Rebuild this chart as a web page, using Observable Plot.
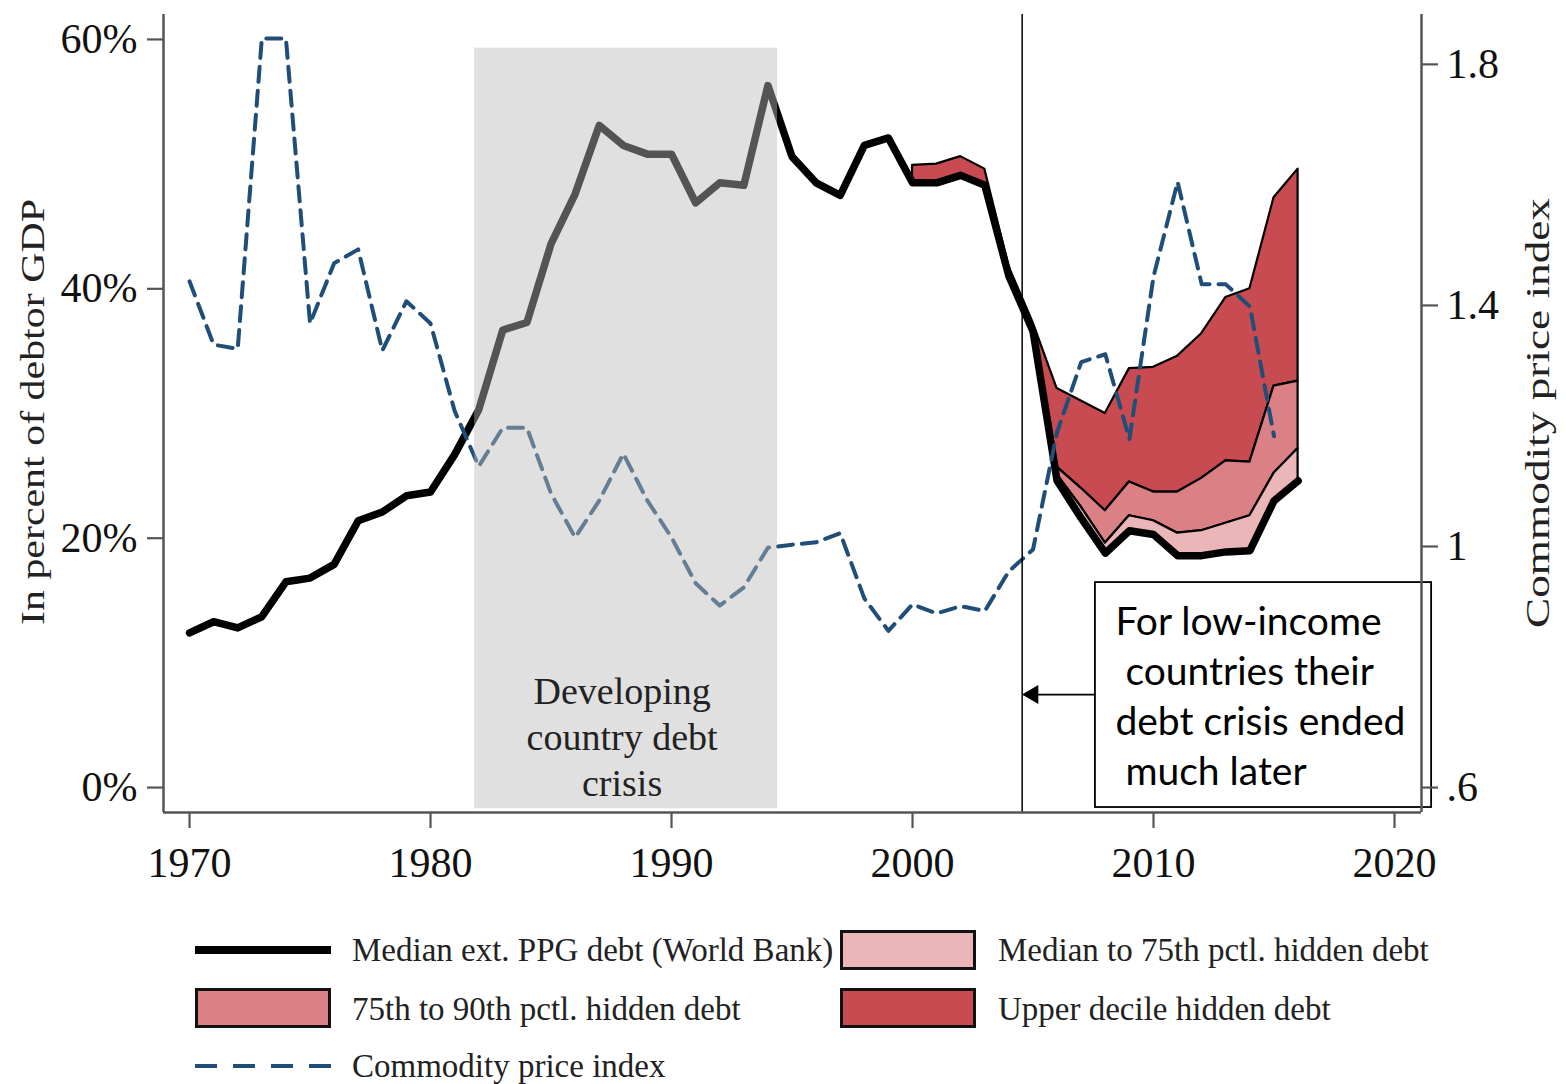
<!DOCTYPE html>
<html><head><meta charset="utf-8">
<script src="https://cdn.jsdelivr.net/npm/d3@7"></script>
<script src="https://cdn.jsdelivr.net/npm/@observablehq/plot@0.6"></script>
<style>
html,body{margin:0;padding:0;background:#fff;}
#wrap{position:relative;width:1566px;height:1084px;overflow:hidden;background:#fff;}
#wrap svg text{white-space:pre;}
.leg{position:absolute;font-family:"Liberation Serif",serif;font-size:33px;color:#222;line-height:1;white-space:nowrap;transform:translateY(-50%);}
.sw{position:absolute;box-sizing:border-box;border:3.5px solid #111;}
</style></head><body><div id="wrap"></div>
<script>
// ---- data ----
const years = [1970,1971,1972,1973,1974,1975,1976,1977,1978,1979,1980,1981,1982,1983,1984,1985,1986,1987,1988,1989,1990,1991,1992,1993,1994,1995,1996,1997,1998,1999,2000,2001,2002,2003,2004,2005,2006,2007,2008,2009,2010,2011,2012,2013,2014,2015,2016];
const medianDebt = [12.4,13.3,12.8,13.7,16.5,16.8,17.9,21.4,22.1,23.4,23.7,26.7,30.3,36.7,37.3,43.6,47.6,53.1,51.5,50.8,50.8,46.9,48.5,48.3,56.3,50.6,48.5,47.5,51.5,52.1,48.5,48.5,49.1,48.3,41.0,36.6,24.6,21.6,18.8,20.6,20.3,18.6,18.6,18.9,19.0,23.0,24.6];

const hiddenYears = [2000,2001,2002,2003,2004,2005,2006,2007,2008,2009,2010,2011,2012,2013,2014,2015,2016];
const pct75 = [48.5,48.5,49.1,48.3,41.0,36.6,25.1,22.5,19.6,21.8,21.4,20.4,20.6,21.2,21.8,25.2,27.2];
const pct90 = [48.5,48.5,49.1,48.3,41.0,36.6,25.7,24.0,22.2,24.5,23.7,23.7,24.8,26.2,26.1,32.2,32.6];
const upperDecileTop = [49.9,50.0,50.6,49.6,41.8,37.3,32.0,31.0,30.0,33.6,33.7,34.6,36.4,39.3,40.0,47.3,49.6];

const commodityYears = [1970,1971,1972,1973,1974,1975,1976,1977,1978,1979,1980,1981,1982,1983,1984,1985,1986,1987,1988,1989,1990,1991,1992,1993,1994,1995,1996,1997,1998,1999,2000,2001,2002,2003,2004,2005,2006,2007,2008,2009,2010,2011,2012,2013,2014,2015];
const commodityIndex = [1.44,1.335,1.328,1.843,1.843,1.37,1.47,1.493,1.325,1.407,1.37,1.225,1.133,1.197,1.197,1.088,1.015,1.076,1.154,1.076,1.015,0.939,0.902,0.932,0.998,1.003,1.007,1.022,0.914,0.86,0.904,0.889,0.901,0.893,0.959,0.995,1.19,1.306,1.319,1.178,1.448,1.605,1.435,1.435,1.398,1.183];

const xTicks = [1970,1980,1990,2000,2010,2020];
const leftTicks = [0,20,40,60];
const rightTicks = [0.6,1,1.4,1.8];
const rightTickLabels = [".6","1","1.4","1.8"];

const legendLabels = ["Median ext. PPG debt (World Bank)","Median to 75th pctl. hidden debt","75th to 90th pctl. hidden debt","Upper decile hidden debt","Commodity price index"];

// annotations (data units)
const crisis = {x1:1981.83, x2:1994.4, y1:-1.7, y2:59.3};
const crisisLabel = {x:1987.95, y:4.2, text:"Developing\ncountry debt\ncrisis"};
const lowIncomeEnd = [2004.55];
const noteBox = {x1:2007.59, x2:2021.54, y1:-1.6, y2:16.44};
const note = {x:2008.42, y:7.5, text:"For low-income\n countries their\ndebt crisis ended\n much later"};
const arrow = {x1:2007.59, x2:2004.62, y:7.46};

// ---- build ----
const xDomain = [1968.92, 2021.12];
const yDomain = [-2, 62];
const toPct = v => (v - 0.6) * (58 / 1.2);
const rightLabelMap = new Map(rightTicks.map((v,i)=>[toPct(v), rightTickLabels[i]]));
const debtRows = years.map((year,i)=>({year, debt: medianDebt[i]}));
const commodityRows = commodityYears.map((year,i)=>({year, idx: toPct(commodityIndex[i])}));
const hiddenRows = hiddenYears.map((year,i)=>({year, med: medianDebt[years.indexOf(year)], p75: pct75[i], p90: pct90[i], top: upperDecileTop[i]}));

const C_TOP = "#c84b51", C_MID = "#db8085", C_LOW = "#ebb6b8", C_COM = "#1f4e79";
const axisStyle = {stroke:"#555", strokeWidth:2.2, fill:"#111", tickSize:16, label:null};
const spine = {stroke:"#555", strokeWidth:2.5};

const svg = Plot.plot({
  width: 1566, height: 905,
  marginLeft: 163, marginRight: 145, marginTop: 14, marginBottom: 93,
  x: {domain: xDomain},
  y: {domain: yDomain},
  style: {fontFamily: '"Liberation Serif", serif', fontSize: "42px", color: "#111", background: "white", overflow: "visible"},
  marks: [
    Plot.areaY(hiddenRows, {x:"year", y1:"p90", y2:"top", fill:C_TOP, stroke:"#000", strokeWidth:2.2, strokeLinejoin:"round"}),
    Plot.areaY(hiddenRows, {x:"year", y1:"p75", y2:"p90", fill:C_MID, stroke:"#000", strokeWidth:2.2, strokeLinejoin:"round"}),
    Plot.areaY(hiddenRows, {x:"year", y1:"med", y2:"p75", fill:C_LOW, stroke:"#000", strokeWidth:2.2, strokeLinejoin:"round"}),
    Plot.lineY(debtRows, {x:"year", y:"debt", stroke:"#000", strokeWidth:7.5, strokeLinejoin:"round"}),
    Plot.lineY(commodityRows, {x:"year", y:"idx", stroke:C_COM, strokeWidth:4, strokeDasharray:"15,9"}),
    Plot.rect([crisis], {x1:"x1", x2:"x2", y1:"y1", y2:"y2", fill:"#bbbbbb", fillOpacity:0.45}),
    Plot.text([crisisLabel], {x:"x", y:"y", text:"text", fontSize:38, lineHeight:1.21, fill:"#222"}),
    Plot.ruleX(lowIncomeEnd, {stroke:"#000", strokeWidth:1.5}),
    Plot.rect([noteBox], {x1:"x1", x2:"x2", y1:"y1", y2:"y2", fill:"white", stroke:"#000", strokeWidth:1.8}),
    Plot.text([note], {x:"x", y:"y", text:"text", textAnchor:"start", fontFamily:"Lato, sans-serif", fontSize:39, lineHeight:1.28, fill:"#000"}),
    Plot.link([arrow], {x1:"x1", x2:"x2", y1:"y", y2:"y", stroke:"#000", strokeWidth:1.8}),
    Plot.dot([arrow], {x:"x2", y:"y", symbol:"triangle", r:7, rotate:-90, fill:"#000", stroke:null, dx:9}),
    Plot.ruleX([xDomain[0]], spine),
    Plot.ruleX([xDomain[1]], spine),
    Plot.ruleY([yDomain[0]], spine),
    Plot.axisX({...axisStyle, ticks:xTicks, tickFormat:d=>String(d), tickPadding:19}),
    Plot.axisY({...axisStyle, anchor:"left", ticks:leftTicks, tickFormat:d=>d+"%", tickPadding:10}),
    Plot.axisY({...axisStyle, anchor:"right", ticks:rightTicks.map(toPct), tickFormat:d=>rightLabelMap.get(d), tickPadding:9})
  ]
});

// axis titles
const s = d3.select(svg);
s.append("text").attr("transform","translate(36,412) rotate(-90)")
  .attr("text-anchor","middle").attr("dominant-baseline","middle")
  .attr("font-family",'"Liberation Serif", serif').attr("font-size",34).attr("fill","#222")
  .attr("textLength",426).attr("lengthAdjust","spacingAndGlyphs")
  .text("In percent of debtor GDP");
s.append("text").attr("transform","translate(1541,413) rotate(-90)")
  .attr("text-anchor","middle").attr("dominant-baseline","middle")
  .attr("font-family",'"Liberation Serif", serif').attr("font-size",34).attr("fill","#222")
  .attr("textLength",430).attr("lengthAdjust","spacingAndGlyphs")
  .text("Commodity price index");

const wrap = document.getElementById("wrap");
wrap.appendChild(svg);

// legend (below the chart)
function add(html){ wrap.insertAdjacentHTML("beforeend", html); }
// row 1
add(`<svg style="position:absolute;left:195px;top:940px" width="136" height="20"><line x1="0" x2="136" y1="10" y2="10" stroke="#000" stroke-width="8"/></svg>`);
add(`<div class="leg" style="left:352px;top:950px">${legendLabels[0]}</div>`);
add(`<div class="sw" style="left:840px;top:930px;width:136px;height:40px;background:${C_LOW}"></div>`);
add(`<div class="leg" style="left:998px;top:950px">${legendLabels[1]}</div>`);
// row 2
add(`<div class="sw" style="left:195px;top:988px;width:136px;height:40px;background:${C_MID}"></div>`);
add(`<div class="leg" style="left:352px;top:1009px">${legendLabels[2]}</div>`);
add(`<div class="sw" style="left:840px;top:988px;width:136px;height:40px;background:${C_TOP}"></div>`);
add(`<div class="leg" style="left:998px;top:1009px">${legendLabels[3]}</div>`);
// row 3
add(`<svg style="position:absolute;left:195px;top:1056px" width="136" height="20"><line x1="0" x2="136" y1="10" y2="10" stroke="${C_COM}" stroke-width="4" stroke-dasharray="22,16"/></svg>`);
add(`<div class="leg" style="left:352px;top:1066px">${legendLabels[4]}</div>`);
</script>
</body></html>
